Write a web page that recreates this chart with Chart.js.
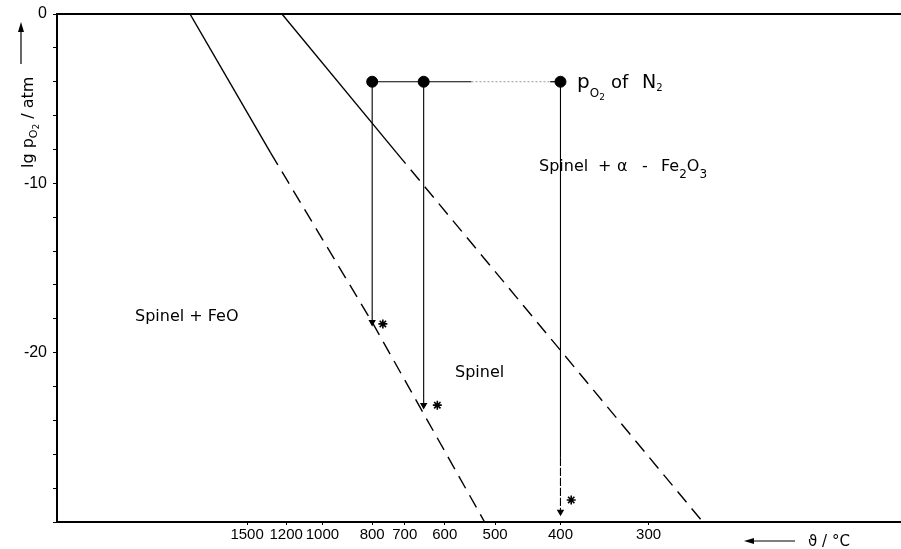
<!DOCTYPE html>
<html>
<head>
<meta charset="utf-8">
<script src="https://cdn.jsdelivr.net/npm/chart.js@4.4.0/dist/chart.umd.min.js"></script>
<style>html,body{margin:0;padding:0;background:#fff}</style>
</head>
<body>
<canvas id="grafica" width="901" height="549"></canvas>
<script>
// x axis is 1/T: values kept in °C, converted with inv()
const inv = t => 1000 / (t + 273.15);

const tempTicks = [1500, 1200, 1000, 800, 700, 600, 500, 400, 300];
const yTickLabels = [0, -10, -20];

// Spinel / Spinel + FeO boundary (solid up to index 1, dashed after)
const feoT = [2252, 1306, 800, 519];
const feoP = [0, -8.2, -18.2, -30];
// Spinel / Spinel + alpha-Fe2O3 boundary
const hemT = [1227, 723, 252];
const hemP = [0, -8.2, -30];

// pO2 of N2 line (segment 2 faint)
const n2T = [800, 650, 544, 414, 400];
const n2P = [-4, -4, -4, -4, -4];

// quench experiments: start, end of arrow
const sampleT = [800, 650, 400];
const sampleP = [-4, -4, -4];
const endP = [-18.2, -23.1, -29.4];
const dashFromP = [null, null, -26.2];
const starT = [765, 617, 386];
const starP = [-18.3, -23.1, -28.7];

const pts = (ts, ps) => ts.map((t, i) => ({ x: inv(t), y: ps[i] }));

const datasets = [
    {
        data: pts(feoT, feoP), showLine: true, borderColor: '#000', borderWidth: 1.4, pointRadius: 0,
        segment: { borderDash: c => c.p0DataIndex >= 1 ? [14, 8] : undefined }
    },
    {
        data: pts(hemT, hemP), showLine: true, borderColor: '#000', borderWidth: 1.4, pointRadius: 0,
        segment: { borderDash: c => c.p0DataIndex >= 1 ? [14, 8] : undefined }
    },
    {
        data: pts(n2T, n2P), showLine: true, borderColor: '#000', borderWidth: 1.2, pointRadius: 0,
        segment: {
            borderColor: c => c.p0DataIndex === 2 ? '#999' : undefined,
            borderDash: c => c.p0DataIndex === 2 ? [2, 2] : undefined
        }
    }
];

// vertical arrows
sampleT.forEach((t, i) => {
    const ys = dashFromP[i] !== null ? [sampleP[i], dashFromP[i], endP[i]] : [sampleP[i], endP[i]];
    datasets.push({
        data: ys.map(y => ({ x: inv(t), y: y })),
        showLine: true, borderColor: '#000', borderWidth: 1.1,
        pointStyle: 'triangle', pointRotation: 180, backgroundColor: '#000',
        pointRadius: c => c.dataIndex === c.dataset.data.length - 1 ? 3.2 : 0,
        segment: { borderDash: c => (dashFromP[i] !== null && c.p0DataIndex === 1) ? [4, 6] : undefined }
    });
});

datasets.push({
    data: pts(sampleT, sampleP), showLine: false, pointRadius: 5.5,
    backgroundColor: '#000', borderColor: '#000'
});
datasets.push({
    data: pts(starT, starP), showLine: false, pointStyle: 'star', pointRadius: 4.5,
    borderColor: '#000', borderWidth: 1.6
});
datasets.forEach(d => { d.xAxisID = 'x'; d.yAxisID = 'y'; });

function runs(ctx, list, x, y) {
    list.forEach(r => {
        ctx.font = r.size + 'px "DejaVu Sans"';
        const xx = r.x !== undefined ? r.x : x;
        ctx.fillText(r.t, xx, y + (r.dy || 0));
        x = xx + ctx.measureText(r.t).width;
    });
}

const labels = {
    id: 'labels',
    afterDraw(chart) {
        const ctx = chart.ctx;
        ctx.save();
        ctx.fillStyle = '#000';
        ctx.strokeStyle = '#000';
        ctx.textBaseline = 'alphabetic';
        ctx.textAlign = 'left';

        runs(ctx, [{ t: 'Spinel + FeO', size: 16 }], 135, 321);
        runs(ctx, [{ t: 'Spinel', size: 16 }], 455, 377);
        runs(ctx, [
            { t: 'Spinel', size: 16 },
            { t: '+', size: 16, x: 598 },
            { t: 'α', size: 16, x: 617 },
            { t: '-', size: 16, x: 642 },
            { t: 'Fe', size: 16, x: 661 },
            { t: '2', size: 12, dy: 7 },
            { t: 'O', size: 16 },
            { t: '3', size: 12, dy: 7 }
        ], 539, 171);
        runs(ctx, [
            { t: 'p', size: 20 },
            { t: 'O', size: 12, dy: 9 },
            { t: '2', size: 9, dy: 12 },
            { t: 'of', size: 18, x: 611 },
            { t: 'N', size: 19, x: 642 },
            { t: '2', size: 10, dy: 3 }
        ], 577, 88);

        // x axis title
        runs(ctx, [{ t: 'ϑ / °C', size: 15 }], 808, 546);
        ctx.lineWidth = 1.2;
        ctx.beginPath(); ctx.moveTo(752, 541); ctx.lineTo(795, 541); ctx.stroke();
        ctx.beginPath(); ctx.moveTo(744, 541); ctx.lineTo(754, 538); ctx.lineTo(754, 544); ctx.closePath(); ctx.fill();

        // y axis title, rotated
        ctx.save();
        ctx.translate(33, 168);
        ctx.rotate(-Math.PI / 2);
        runs(ctx, [
            { t: 'lg p', size: 16 },
            { t: 'O', size: 11, dy: 4 },
            { t: '2', size: 9, dy: 6 },
            { t: ' / atm', size: 16 }
        ], 0, 0);
        ctx.restore();
        ctx.beginPath(); ctx.moveTo(21, 64); ctx.lineTo(21, 30); ctx.stroke();
        ctx.beginPath(); ctx.moveTo(21, 22); ctx.lineTo(18, 32); ctx.lineTo(24, 32); ctx.closePath(); ctx.fill();
        ctx.restore();
    }
};

Chart.defaults.font.family = '"Liberation Sans", sans-serif';
Chart.defaults.color = '#000';

const noPad = s => { s.paddingLeft = 0; s.paddingRight = 0; s.paddingTop = 0; s.paddingBottom = 0; };

new Chart(document.getElementById('grafica'), {
    type: 'scatter',
    data: { datasets: datasets },
    options: {
        responsive: false,
        animation: false,
        devicePixelRatio: 1,
        layout: { autoPadding: false, padding: { top: 14, right: 1, left: 0, bottom: 0 } },
        plugins: { legend: { display: false }, tooltip: { enabled: false } },
        scales: {
            x: {
                type: 'linear', position: 'bottom', min: 0.005, max: 2.484,
                afterBuildTicks: s => { s.ticks = tempTicks.map(t => ({ value: inv(t) })); },
                afterFit: s => { s.height = 27; noPad(s); },
                grid: { drawOnChartArea: false, tickLength: 3, color: '#000' },
                border: { display: true, color: '#000', width: 2 },
                ticks: {
                    autoSkip: false, maxRotation: 0, padding: 1,
                    font: { size: 15 },
                    callback: (v, i) => tempTicks[i]
                }
            },
            x2: {
                axis: 'x', type: 'linear', position: 'top', min: 0, max: 1,
                afterFit: s => { s.height = 0; noPad(s); },
                grid: { display: false },
                ticks: { display: false },
                border: { display: true, color: '#000', width: 2 }
            },
            y: {
                type: 'linear', min: -30, max: 0,
                afterFit: s => { s.width = 57; noPad(s); },
                grid: { drawOnChartArea: false, tickLength: 4, color: '#000' },
                border: { display: true, color: '#000', width: 2 },
                ticks: {
                    stepSize: 2, autoSkip: false, padding: 6,
                    font: { size: 16 },
                    callback: v => yTickLabels.includes(v) ? String(v) : ''
                }
            }
        }
    },
    plugins: [labels]
});
</script>
</body>
</html>
